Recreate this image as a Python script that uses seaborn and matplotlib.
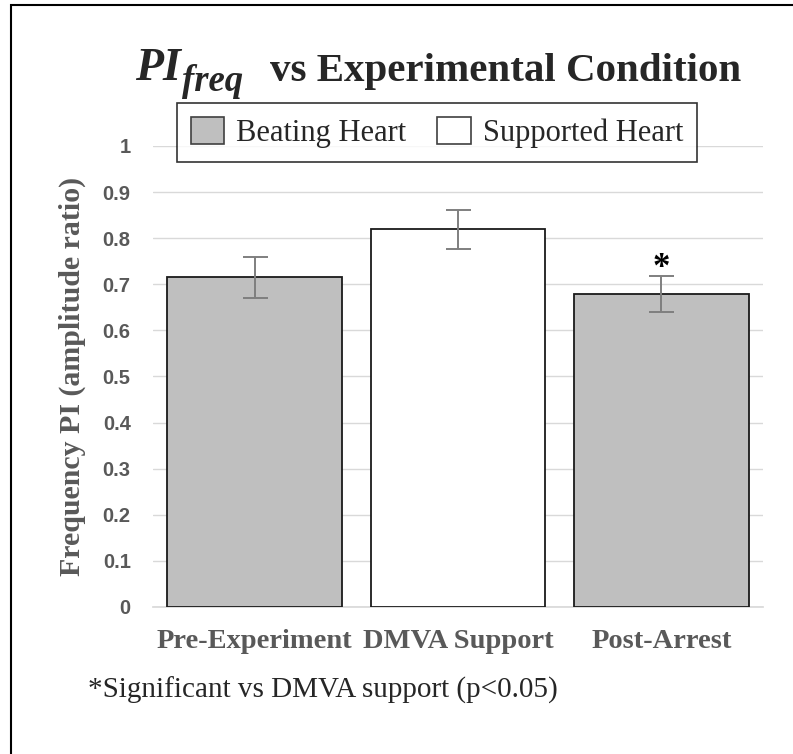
import matplotlib
matplotlib.use("Agg")
import matplotlib.pyplot as plt
from matplotlib.patches import Patch, Rectangle
import seaborn as sns

conditions = ["Pre-Experiment", "DMVA Support", "Post-Arrest"]
means = [0.715, 0.819, 0.679]
errors = [0.045, 0.043, 0.039]
groups = ["Beating Heart", "Supported Heart", "Beating Heart"]
group_colors = {"Beating Heart": "#bfbfbf", "Supported Heart": "#ffffff"}
yticks = [0, 0.1, 0.2, 0.3, 0.4, 0.5, 0.6, 0.7, 0.8, 0.9, 1]

sns.set_theme(style="white")
plt.rcParams["font.family"] = ["Liberation Serif", "DejaVu Serif"]

fig = plt.figure(figsize=(7.93, 7.54), dpi=100)
ax = fig.add_axes([0.1929, 0.1950, 0.7692, 0.6114])

sns.barplot(x=conditions, y=means, hue=groups, palette=group_colors, dodge=False,
            width=0.86, edgecolor="#1a1a1a", linewidth=1.3, legend=False, ax=ax, zorder=3)
ax.errorbar(range(len(conditions)), means, yerr=errors, fmt="none", ecolor="#7f7f7f",
            elinewidth=1.4, capsize=9, capthick=1.4, zorder=4)

ax.set_ylim(0, 1)
ax.set_xlim(-0.5, 2.5)
ax.set_yticks(yticks)
ax.set_yticklabels([f"{t:g}" for t in yticks], fontfamily="Liberation Sans",
                   fontweight="bold", fontsize=14.5, color="#595959")
ax.yaxis.grid(True, color="#d9d9d9", linewidth=1.0, zorder=0)
ax.set_axisbelow(True)
for s in ["top", "right", "left"]:
    ax.spines[s].set_visible(False)
ax.spines["bottom"].set_color("#d9d9d9")
ax.tick_params(axis="y", length=0, pad=16)
ax.tick_params(axis="x", length=0, pad=16)
for lbl in ax.get_xticklabels():
    lbl.set_fontweight("bold")
    lbl.set_fontsize(20.5)
    lbl.set_color("#595959")
ax.set_xlabel("")
ax.set_ylabel("Frequency PI (amplitude ratio)", fontsize=21.5, fontweight="bold",
              color="#595959", labelpad=12)

# significance marker
ax.text(2, means[2] + errors[2] - 0.002, "*", ha="center", va="baseline",
        fontsize=25, fontweight="bold", color="black")

# title: PI with "freq" subscript, then the rest
fig.text(0.170, 1 - 80 / 754, "PI", ha="left", va="baseline", fontsize=33,
         fontweight="bold", fontstyle="italic")
fig.text(0.229, 1 - 91 / 754, "freq", ha="left", va="baseline", fontsize=26.5,
         fontweight="bold", fontstyle="italic")
fig.text(0.340, 1 - 81 / 754, "vs Experimental Condition", ha="left",
         va="baseline", fontsize=29.5, fontweight="bold")

handles = [Patch(facecolor=group_colors[g], edgecolor="#404040", linewidth=1.2)
           for g in ["Beating Heart", "Supported Heart"]]
leg = fig.legend(handles, ["Beating Heart", "Supported Heart"], loc="center",
                 bbox_to_anchor=(0.551, 0.824), ncol=2, fontsize=22, frameon=True,
                 fancybox=False, edgecolor="black", handlelength=1.1, handleheight=1.0,
                 columnspacing=1.0, handletextpad=0.4, borderpad=0.45)
leg.get_frame().set_linewidth(1.2)

fig.text(0.111, 0.0743, "*Significant vs DMVA support (p<0.05)", fontsize=21,
         va="baseline")

fig.patches.append(Rectangle((0.0139, -0.1), 1.0, 1.0934, transform=fig.transFigure,
                             fill=False, edgecolor="black", linewidth=1.5))

fig.savefig("out.png", dpi=100)
